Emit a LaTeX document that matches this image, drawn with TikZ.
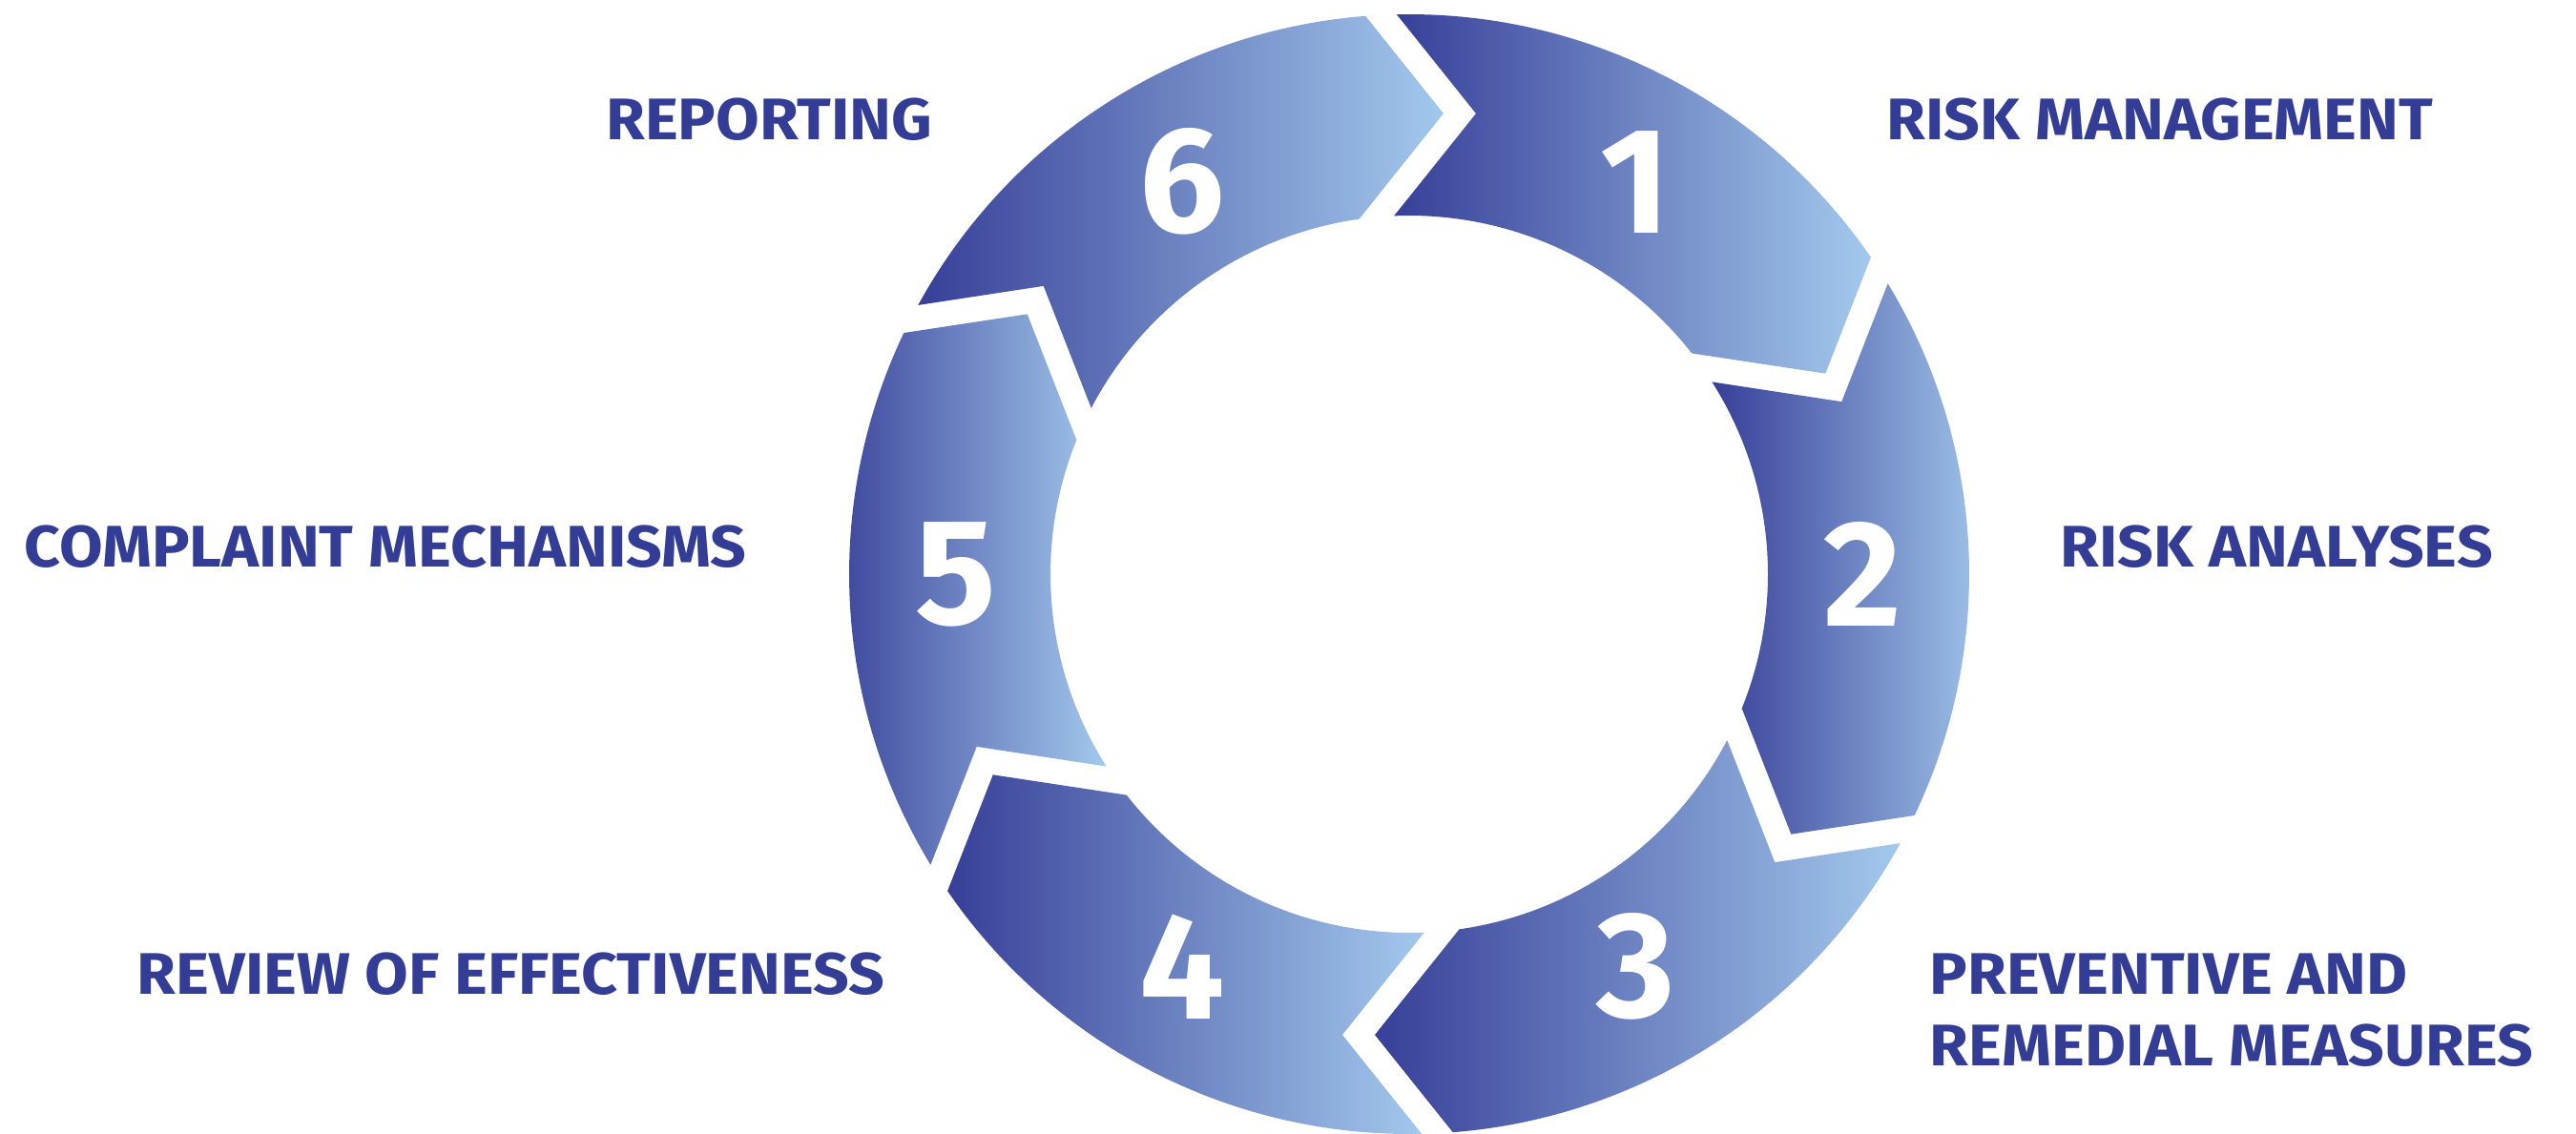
\documentclass[tikz,border=0pt]{standalone}
\usepackage{fontspec}
\setmainfont{Fira Sans}
\newfontfamily\lblfont[FakeStretch=1.075]{Fira Sans}
\usetikzlibrary{positioning}

\definecolor{labelblue}{RGB}{51,61,150}
\definecolor{darkblue}{RGB}{55,63,152}
\definecolor{lightblue}{RGB}{163,201,236}

\begin{document}
\begin{tikzpicture}[
    segment/.style={left color=darkblue, right color=lightblue, draw=none},
    num/.style={text=white, font=\fontsize{45}{54}\selectfont\bfseries, inner sep=0pt},
    lbl/.style={text=labelblue, font=\fontsize{17.5}{21}\selectfont\lblfont\bfseries, inner sep=0pt}
]
\useasboundingbox (0,0) rectangle (27,11.88);

% === Cycle of six segments ===
\begin{scope}[shift={(14.77,5.86)}]
    \def\Rout{5.87}
    \def\Rin{3.76}
    \foreach \k in {0,...,5} {
        \pgfmathsetmacro{\r}{-60*\k}
        % notch at the start, tip at the end (clockwise)
        \shade[segment] ({91.28+\r}:\Rout)
            arc[start angle={91.28+\r}, end angle={34.47+\r}, radius=\Rout]
            -- ({25.74+\r}:4.8435)
            -- ({38.02+\r}:\Rin)
            arc[start angle={38.02+\r}, end angle={92.42+\r}, radius=\Rin]
            -- ({81.75+\r}:4.8805) -- cycle;
    }
    % Numbers
    \foreach \a/\n in {60/1, 0/2, -60/3, -120/4, 180/5, 120/6}
        \node[num] (n\n) at (\a:4.75) {\n};
\end{scope}

% === Labels right ===
\node[lbl, anchor=base west] (manage) at (19.77, 10.42) {RISK MANAGEMENT};
\node[lbl, anchor=base west] (analyse) at (21.59, 5.94) {RISK ANALYSES};
\node[lbl, anchor=base west] (prevent) at (20.22, 1.46) {PREVENTIVE AND};
\node[lbl, anchor=base west] (remedial) at ([yshift=-7.5mm]prevent.base west) {REMEDIAL MEASURES};

% === Labels left ===
\node[lbl, anchor=base east] (report) at (9.78, 10.42) {REPORTING};
\node[lbl, anchor=base east] (complaint) at (7.83, 5.94) {COMPLAINT MECHANISMS};
\node[lbl, anchor=base east] (review) at (9.28, 1.46) {REVIEW OF EFFECTIVENESS};

\end{tikzpicture}
\end{document}
